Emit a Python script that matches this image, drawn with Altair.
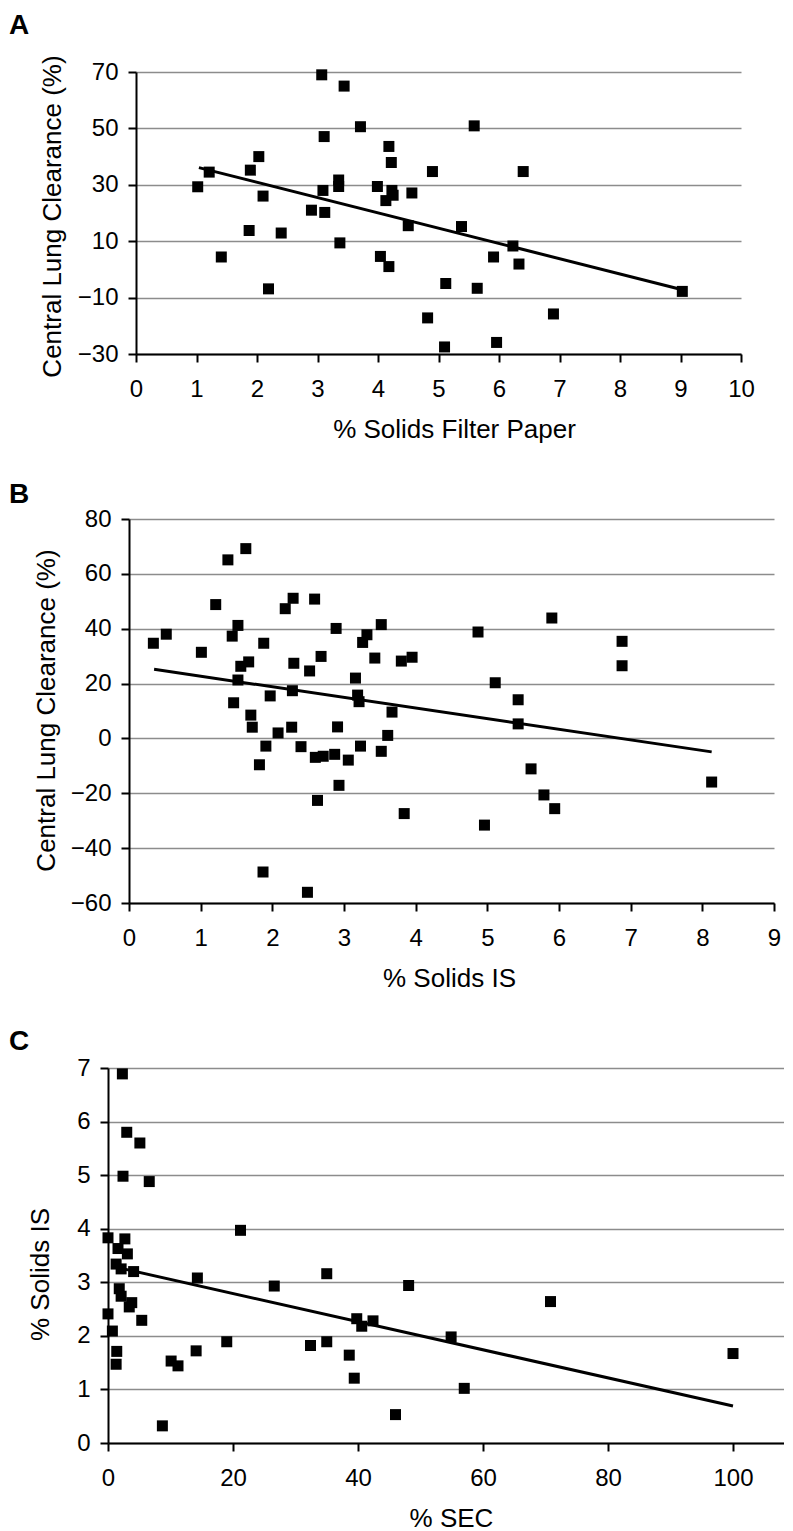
import altair as alt
import pandas as pd

FONT = "Liberation Sans"

# ---------------- Panel A ----------------
a_x = [1.02, 1.21, 1.41, 1.87, 1.89, 2.03, 2.10, 2.19, 2.40, 2.90, 3.07, 3.09, 3.11, 3.12,
       3.35, 3.35, 3.37, 3.44, 3.71, 3.99, 4.04, 4.13, 4.18, 4.18, 4.22, 4.23, 4.25, 4.50,
       4.56, 4.82, 4.90, 5.10, 5.12, 5.38, 5.59, 5.64, 5.91, 5.96, 6.23, 6.33, 6.40, 6.90, 9.03]
a_y = [29.3, 34.5, 4.4, 13.8, 35.2, 40.0, 26.0, -6.9, 12.9, 21.0, 69.0, 28.0, 47.1, 20.2,
       31.7, 29.4, 9.4, 65.0, 50.6, 29.4, 4.6, 24.4, 43.6, 1.0, 37.9, 28.0, 26.3, 15.5,
       27.1, -17.2, 34.7, -27.5, -5.0, 15.2, 50.9, -6.7, 4.4, -25.9, 8.3, 1.9, 34.7, -15.8, -7.8]
a_trend_x = [1.04, 9.03]
a_trend_y = [36.1, -7.2]
a_xticks = [0, 1, 2, 3, 4, 5, 6, 7, 8, 9, 10]
a_yticks = [-30, -10, 10, 30, 50, 70]

# ---------------- Panel B ----------------
b_x = [0.34, 0.52, 1.01, 1.21, 1.38, 1.44, 1.46, 1.52, 1.52, 1.56, 1.63, 1.67, 1.70, 1.72,
       1.82, 1.88, 1.87, 1.91, 1.97, 2.08, 2.18, 2.27, 2.28, 2.29, 2.30, 2.40, 2.49, 2.52,
       2.59, 2.60, 2.63, 2.68, 2.71, 2.87, 2.89, 2.91, 2.93, 3.06, 3.16, 3.19, 3.21, 3.23,
       3.26, 3.32, 3.43, 3.52, 3.52, 3.61, 3.67, 3.80, 3.84, 3.95, 4.87, 4.96, 5.11, 5.43,
       5.43, 5.61, 5.79, 5.90, 5.94, 6.88, 6.88, 8.13]
b_y = [34.7, 38.0, 31.4, 48.8, 65.1, 37.3, 13.0, 41.2, 21.3, 26.3, 69.2, 27.9, 8.5, 4.1,
       -9.6, 34.7, -48.7, -2.8, 15.5, 2.0, 47.3, 4.1, 17.4, 51.1, 27.4, -3.0, -56.1, 24.6,
       50.8, -6.9, -22.6, 29.9, -6.5, -5.8, 40.1, 4.2, -17.1, -7.9, 22.0, 15.8, 13.4, -2.8,
       35.0, 37.8, 29.3, -4.7, 41.5, 1.1, 9.6, 28.2, -27.4, 29.6, 38.8, -31.6, 20.3, 14.1,
       5.3, -11.1, -20.6, 43.9, -25.6, 35.4, 26.5, -15.9]
b_trend_x = [0.35, 8.13]
b_trend_y = [25.2, -4.9]
b_xticks = [0, 1, 2, 3, 4, 5, 6, 7, 8, 9]
b_yticks = [-60, -40, -20, 0, 20, 40, 60, 80]

# ---------------- Panel C ----------------
c_x = [2.3, 3.0, 5.1, 2.4, 6.6, 21.2, 0.0, 2.7, 1.6, 3.1, 1.3, 2.1, 4.1, 14.3, 35.0, 26.6,
       48.1, 1.8, 2.1, 3.8, 3.4, 0.0, 5.4, 70.8, 39.8, 40.6, 42.4, 0.7, 19.0, 32.4, 35.0,
       54.9, 1.4, 14.1, 38.6, 100.0, 1.3, 10.1, 11.2, 39.4, 57.0, 46.0, 8.7]
c_y = [6.89, 5.80, 5.60, 4.98, 4.88, 3.97, 3.83, 3.81, 3.63, 3.53, 3.34, 3.25, 3.20, 3.08,
       3.16, 2.93, 2.94, 2.88, 2.74, 2.62, 2.54, 2.41, 2.29, 2.64, 2.32, 2.18, 2.28, 2.09,
       1.89, 1.82, 1.89, 1.98, 1.71, 1.72, 1.64, 1.67, 1.47, 1.53, 1.44, 1.21, 1.02, 0.53, 0.32]
c_trend_x = [2.5, 100.0]
c_trend_y = [3.25, 0.69]
c_xticks = [0, 20, 40, 60, 80, 100]
c_yticks = [0, 1, 2, 3, 4, 5, 6, 7]


def panel(letter, xs, ys, tx, ty, xdom, ydom, xticks, yticks, xtitle, ytitle,
          width, height, left_px, frame_top, frame_bottom, letter_y,
          ytitle_x, ytitle_y, xtitle_x):
    pts = pd.DataFrame({"x": xs, "y": ys})
    trend = pd.DataFrame({"x": tx, "y": ty})
    lab = pd.DataFrame({"t": [letter]})

    xscale = alt.Scale(domain=xdom, nice=False, zero=False)
    yscale = alt.Scale(domain=ydom, nice=False, zero=False)
    xaxis = alt.Axis(values=xticks, title=xtitle, grid=False, labelFlush=False,
                     labelBaseline="alphabetic", labelPadding=34,
                     titleX=xtitle_x, titleY=83, titleBaseline="alphabetic",
                     titleAlign="center")
    yaxis = alt.Axis(values=yticks, title=ytitle, grid=True, labelFlush=False,
                     labelPadding=10, titleX=ytitle_x, titleY=ytitle_y,
                     titleBaseline="alphabetic", titleAlign="center", titleAngle=270)

    frame = alt.Chart(lab).mark_rule(color="white", opacity=0).encode(
        x=alt.value(left_px), y=alt.value(frame_top), y2=alt.value(frame_bottom))
    points = alt.Chart(pts).mark_square(size=121, color="black", opacity=1).encode(
        x=alt.X("x:Q", scale=xscale, axis=xaxis),
        y=alt.Y("y:Q", scale=yscale, axis=yaxis))
    line = alt.Chart(trend).mark_line(color="black", strokeWidth=3).encode(
        x=alt.X("x:Q", scale=xscale, axis=xaxis),
        y=alt.Y("y:Q", scale=yscale, axis=yaxis))
    letter_mark = alt.Chart(lab).mark_text(
        font=FONT, fontSize=28, fontWeight="bold", align="left", baseline="top",
        color="black").encode(
        x=alt.value(left_px), y=alt.value(letter_y), text="t:N")
    body = alt.layer(frame, points, line, letter_mark).properties(width=width, height=height)
    spacer = alt.Chart(lab).mark_rule(color="white", opacity=0).encode(
        x=alt.value(0), y=alt.value(0), y2=alt.value(1)).properties(width=1, height=1)
    return alt.hconcat(spacer, body, spacing=0, bounds="full")


# plot-area left edges in page px: A 136, B 129, C 108 -> left_px = 9 - edge
pa = panel("A", a_x, a_y, a_trend_x, a_trend_y, [0, 10], [-30, 70], a_xticks, a_yticks,
           "% Solids Filter Paper", "Central Lung Clearance (%)",
           605, 282, -127, -64, 388, -60, -76, 144, 318)
pb = panel("B", b_x, b_y, b_trend_x, b_trend_y, [0, 9], [-60, 80], b_xticks, b_yticks,
           "% Solids IS", "Central Lung Clearance (%)",
           645, 384, -120, -59, 491, -38, -75, 191, 320)
pc = panel("C", c_x, c_y, c_trend_x, c_trend_y, [0, 108.16], [0, 7], c_xticks, c_yticks,
           "% SEC", "% Solids IS",
           676, 375, -99, -58, 454, -40, -60, 206, 343)

chart = alt.concat(pa, pb, pc, columns=1, spacing=0, align="none", bounds="full").properties(
    padding=0
).configure_view(stroke=None).configure_axis(
    domainColor="black", domainWidth=2, tickColor="black", tickWidth=2, tickSize=8,
    labelFont=FONT, labelFontSize=24, labelColor="black",
    titleFont=FONT, titleFontSize=26, titleFontWeight="normal", titleColor="black",
    gridColor="#8c8c8c", gridWidth=1.5
)

chart.save("out.html", embed_options={"renderer": "svg", "actions": False})
